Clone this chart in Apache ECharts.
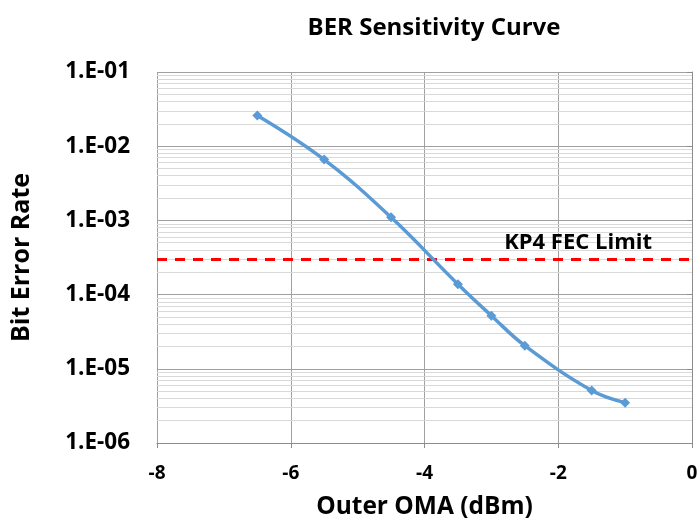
<!DOCTYPE html>
<html>
<head>
<meta charset="utf-8">
<script src="https://cdn.jsdelivr.net/npm/echarts@6/dist/echarts.min.js"></script>
<style>html,body{margin:0;padding:0;background:#fff}#c{width:700px;height:519px}</style>
</head>
<body>
<div id="c"></div>
<script>
var omaDbm = [-6.5, -5.5, -4.5, -3.5, -3.0, -2.5, -1.5, -1.0];
var berValues = [2.6e-2, 6.6e-3, 1.1e-3, 1.38e-4, 5.2e-5, 2.05e-5, 5.1e-6, 3.5e-6];
var fecLimit = 3e-4;
var xTicks = [-8, -6, -4, -2, 0];
var yDecades = [1e-6, 1e-5, 1e-4, 1e-3, 1e-2, 1e-1];
var minorMultipliers = [2, 3, 4, 5, 6, 7, 8, 9];

var FONT = 'Open Sans';
var minorLines = [];
for (var d = 0; d < yDecades.length - 1; d++) {
  for (var m = 0; m < minorMultipliers.length; m++) {
    minorLines.push({ yAxis: yDecades[d] * minorMultipliers[m] });
  }
}

function fmtExp(v) {
  var e = Math.round(Math.log10(v));
  var a = Math.abs(e);
  return '1.E' + (e < 0 ? '-' : '+') + (a < 10 ? '0' + a : a);
}

var chart = echarts.init(document.getElementById('c'), null, { renderer: 'canvas' });
chart.setOption({
  animation: false,
  backgroundColor: '#ffffff',
  title: {
    text: 'BER Sensitivity Curve',
    left: 429, top: 11, textAlign: 'center',
    textStyle: { fontFamily: FONT, fontWeight: 'bold', fontSize: 24, color: '#000' }
  },
  grid: { left: 157, right: 8, top: 72, bottom: 76, containLabel: false, outerBoundsMode: 'none' },
  xAxis: {
    type: 'value', min: -8, max: 0, interval: 2,
    name: 'Outer OMA (dBm)', nameLocation: 'middle', nameGap: 52,
    nameTextStyle: { fontFamily: FONT, fontWeight: 'bold', fontSize: 24.5, color: '#000' },
    axisLine: { show: true, onZero: false, lineStyle: { color: '#8c8c8c', width: 1 } },
    axisTick: { show: true, length: 5, lineStyle: { color: '#8c8c8c' } },
    axisLabel: { fontFamily: FONT, fontWeight: 'bold', fontSize: 19, color: '#000', margin: 21,
      formatter: function (v) { return String(v); } },
    splitLine: { show: true, lineStyle: { color: '#a0a0a0', width: 1 } }
  },
  yAxis: {
    type: 'log', logBase: 10, min: 1e-6, max: 1e-1, interval: 1,
    name: 'Bit Error Rate', nameLocation: 'middle', nameGap: 123, nameRotate: 90,
    nameTextStyle: { fontFamily: FONT, fontWeight: 'bold', fontSize: 25, color: '#000' },
    axisLine: { show: true, lineStyle: { color: '#8c8c8c', width: 1 } },
    axisTick: { show: true, length: 5, lineStyle: { color: '#8c8c8c' } },
    axisLabel: { fontFamily: FONT, fontWeight: 'bold', fontSize: 22.5, color: '#000', margin: 27,
      formatter: fmtExp },
    splitLine: { show: true, lineStyle: { color: '#a0a0a0', width: 1 } },
    minorTick: { show: false }, minorSplitLine: { show: false }
  },
  series: [
    {
      type: 'line', data: [], z: 1, silent: true,
      markLine: {
        silent: true, symbol: ['none', 'none'], animation: false, precision: 12, z: 1,
        label: { show: false },
        lineStyle: { color: '#d9d9d9', width: 1, type: 'solid' },
        data: minorLines
      }
    },
    {
      type: 'line', data: [], z: 2, silent: true,
      markLine: {
        silent: true, symbol: ['none', 'none'], animation: false, precision: 12, z: 2,
        lineStyle: { color: '#ff0000', width: 3, type: [10, 8] },
        label: { show: true, position: 'insideEndTop', formatter: 'KP4 FEC Limit', distance: [40, 5],
          fontFamily: FONT, fontWeight: 'bold', fontSize: 22, color: '#000' },
        data: [{ yAxis: fecLimit }]
      }
    },
    {
      type: 'line', z: 3, smooth: 0.4,
      data: omaDbm.map(function (x, i) { return [x, berValues[i]]; }),
      symbol: 'diamond', symbolSize: 10, showSymbol: true,
      lineStyle: { color: '#5b9bd5', width: 3.5 },
      itemStyle: { color: '#5b9bd5' }
    }
  ]
});
</script>
</body>
</html>
